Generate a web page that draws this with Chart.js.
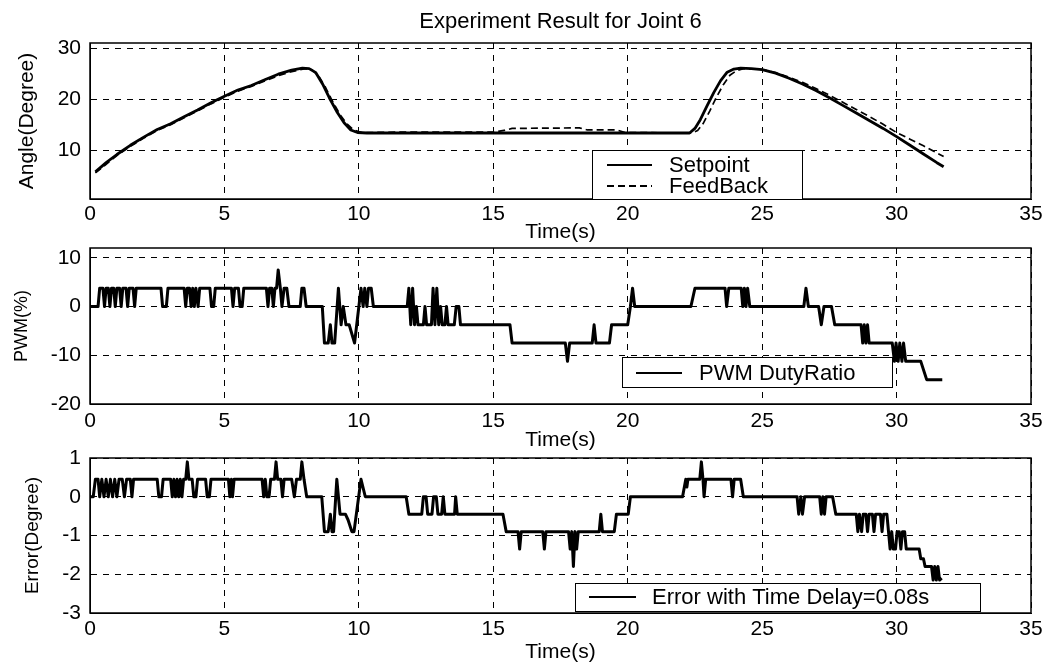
<!DOCTYPE html>
<html lang="en">
<head>
<meta charset="utf-8">
<title>Experiment Result for Joint 6</title>
<style>
  html, body { margin: 0; padding: 0; background: #fff; }
  #wrap { position: relative; width: 1059px; height: 666px; }
  #wrap canvas { position: absolute; left: 0; top: 0; }
</style>
</head>
<body>
<div id="wrap">
  <canvas id="angleChart" width="1059" height="666"></canvas>
  <canvas id="pwmChart" width="1059" height="666"></canvas>
  <canvas id="errChart" width="1059" height="666"></canvas>
</div>
<script src="https://cdn.jsdelivr.net/npm/chart.js@4.4.1/dist/chart.umd.min.js"></script>
<script>
  // angle of joint 6 (degree)
  var spTime = [0.2, 0.6, 1.0, 1.5, 2.0, 2.5, 3.0, 3.5, 4.0, 4.5, 5.0, 5.5, 6.0, 6.5, 7.0, 7.5, 7.9, 8.15, 8.4, 8.65,
    8.9, 9.2, 9.45, 9.7, 9.95, 10.3, 16.0, 22.3, 22.5, 22.7, 22.95, 23.2, 23.45, 23.7, 23.95, 24.2, 24.6, 25.0, 25.5, 26.0,
    26.5, 27.0, 27.5, 28.0, 28.5, 29.0, 29.5, 30.0, 30.5, 31.0, 31.5, 31.75];
  var spAngle = [5.8, 7.6, 9.2, 11.0, 12.6, 14.1, 15.2, 16.6, 17.9, 19.3, 20.6, 21.8, 22.7, 23.8, 24.9, 25.7, 26.1, 26.0, 25.2, 23.0,
    20.3, 17.4, 15.4, 14.0, 13.5, 13.4, 13.4, 13.4, 14.3, 16.0, 18.7, 21.3, 23.6, 25.3, 25.9, 26.1, 26.0, 25.8, 25.1, 24.1,
    23.0, 21.7, 20.3, 18.8, 17.3, 15.8, 14.3, 12.7, 11.0, 9.3, 7.6, 6.8];
  var fbTime = [0.2, 0.6, 1.0, 1.5, 2.0, 2.5, 3.0, 3.5, 4.0, 4.5, 5.0, 5.5, 6.0, 6.5, 7.0, 7.5, 8.0, 8.25, 8.5, 8.75,
    9.0, 9.3, 9.55, 9.8, 10.1, 10.5, 12.0, 15.0, 15.4, 15.7, 18.2, 18.5, 19.6, 19.9, 22.4, 22.6, 22.8, 23.05, 23.3, 23.55,
    23.8, 24.05, 24.3, 25.0, 25.5, 26.0, 26.5, 27.0, 27.5, 28.0, 28.5, 29.0, 29.5, 30.0, 30.5, 31.0, 31.5, 31.75];
  var fbAngle = [5.6, 7.3, 9.0, 10.8, 12.4, 13.9, 15.0, 16.4, 17.7, 19.1, 20.4, 21.6, 22.5, 23.6, 24.6, 25.4, 26.0, 25.8, 24.6, 22.4,
    19.8, 17.0, 15.2, 14.0, 13.5, 13.5, 13.6, 13.6, 13.9, 14.3, 14.4, 14.0, 14.0, 13.5, 13.4, 13.9, 15.2, 17.7, 20.4, 22.8,
    24.7, 25.6, 26.0, 25.8, 25.2, 24.3, 23.3, 22.1, 20.8, 19.4, 18.0, 16.6, 15.1, 13.5, 12.2, 10.9, 9.5, 8.8];

  // PWM duty ratio (%)
  var pwmTime = [0, 0.3, 0.36, 0.48, 0.54, 0.6, 0.68, 0.74, 0.8, 0.88, 0.94, 1.0, 1.1, 1.16, 1.22, 1.34, 1.4, 1.46, 1.6, 1.66,
    1.72, 2.64, 2.7, 2.84, 2.9, 3.5, 3.56, 3.62, 3.7, 3.76, 3.82, 3.88, 3.94, 4.02, 4.08, 4.46, 4.52, 4.6, 4.66, 5.26,
    5.32, 5.38, 5.52, 5.58, 5.66, 5.72, 6.56, 6.62, 6.68, 6.76, 6.82, 6.88, 6.94, 7.0, 7.08, 7.14, 7.22, 7.32, 7.4, 7.82,
    7.88, 7.96, 8.04, 8.64, 8.72, 8.86, 8.94, 9.0, 9.1, 9.24, 9.34, 9.42, 9.52, 9.64, 9.84, 10.08, 10.16, 10.22, 10.3, 10.36,
    10.46, 10.54, 11.8, 11.86, 11.93, 12.0, 12.07, 12.14, 12.2, 12.4, 12.46, 12.52, 12.7, 12.76, 12.83, 12.9, 12.97, 13.04, 13.1, 13.2,
    13.26, 13.32, 13.55, 13.62, 13.72, 13.78, 15.62, 15.7, 17.68, 17.76, 17.84, 18.68, 18.75, 18.82, 19.32, 19.4, 20.0, 20.1, 20.18, 20.26,
    22.35, 22.5, 23.62, 23.68, 23.76, 24.22, 24.28, 24.34, 24.4, 24.46, 24.54, 26.55, 26.63, 26.72, 27.1, 27.2, 27.3, 27.58, 27.7, 28.68,
    28.74, 28.8, 28.86, 28.92, 28.98, 29.84, 29.92, 29.98, 30.06, 30.12, 30.2, 30.26, 30.34, 30.9, 31.12, 31.7];
  var pwmDuty = [0, 0, 3.75, 3.75, 0, 3.75, 3.75, 0, 3.75, 3.75, 0, 3.75, 3.75, 0, 3.75, 3.75, 0, 3.75, 3.75, 0,
    3.75, 3.75, 0, 0, 3.75, 3.75, 0, 3.75, 3.75, 0, 3.75, 0, 3.75, 0, 3.75, 3.75, 0, 0, 3.75, 3.75,
    0, 3.75, 3.75, 0, 0, 3.75, 3.75, 0, 3.75, 3.75, 0, 3.75, 3.75, 7.5, 3.75, 0, 3.75, 3.75, 0, 0,
    3.75, 3.75, 0, 0, -7.5, -7.5, -3.75, -7.5, -7.5, 3.75, -3.75, 0, -3.75, -3.75, -7.5, 3.75, 0, 3.75, 0, 3.75,
    3.75, 0, 0, 3.75, -3.75, 3.75, -3.75, 0, -3.75, -3.75, 0, -3.75, -3.75, 3.75, -3.75, 3.75, -3.75, 0, -3.75, -3.75,
    0, -3.75, -3.75, 0, 0, -3.75, -3.75, -7.5, -7.5, -11.25, -7.5, -7.5, -3.75, -7.5, -7.5, -3.75, -3.75, 0, 3.75, 0,
    0, 3.75, 3.75, 0, 3.75, 3.75, 0, 3.75, 0, 3.75, 0, 0, 3.75, 0, 0, -3.75, 0, 0, -3.75, -3.75,
    -7.5, -3.75, -7.5, -3.75, -7.5, -7.5, -11.25, -7.5, -11.25, -7.5, -11.25, -7.5, -11.25, -11.25, -15, -15];

  // tracking error with 0.08 s delay (degree)
  var errTime = [0, 0.12, 0.2, 0.3, 0.36, 0.44, 0.52, 0.6, 0.68, 0.76, 0.84, 0.92, 1.0, 1.08, 1.2, 1.28, 1.36, 1.5, 1.56, 1.62,
    2.5, 2.56, 2.66, 2.72, 3.0, 3.06, 3.12, 3.18, 3.24, 3.3, 3.36, 3.42, 3.48, 3.56, 3.62, 3.68, 3.8, 3.86, 3.94, 4.0,
    4.3, 4.36, 4.44, 4.5, 5.15, 5.2, 5.26, 5.3, 5.36, 6.4, 6.46, 6.52, 6.58, 6.66, 6.72, 6.86, 6.92, 6.98, 7.1, 7.16,
    7.22, 7.5, 7.6, 7.68, 7.82, 7.88, 7.96, 8.06, 8.62, 8.72, 8.86, 8.94, 9.0, 9.06, 9.18, 9.3, 9.5, 9.6, 9.74, 9.82,
    10.08, 10.24, 11.76, 11.86, 12.34, 12.4, 12.5, 12.56, 12.72, 12.78, 12.88, 12.94, 13.08, 13.14, 13.2, 13.56, 13.6, 13.66, 15.36, 15.48,
    15.92, 15.98, 16.04, 16.84, 16.9, 16.96, 17.8, 17.86, 17.92, 17.98, 18.04, 18.1, 18.16, 18.94, 19.0, 19.06, 19.5, 19.58, 20.02, 20.1,
    22.04, 22.16, 22.2, 22.24, 22.68, 22.74, 22.8, 22.84, 22.9, 23.84, 23.9, 23.96, 24.2, 24.3, 26.3, 26.36, 26.44, 26.5, 26.58, 27.14,
    27.2, 27.26, 27.32, 27.38, 27.62, 27.74, 28.5, 28.56, 28.62, 28.7, 28.76, 28.86, 28.92, 28.98, 29.1, 29.16, 29.22, 29.4, 29.46, 29.52,
    29.64, 29.7, 29.76, 29.82, 29.88, 29.96, 30.02, 30.1, 30.16, 30.22, 30.3, 30.36, 30.84, 30.9, 31.0, 31.06, 31.3, 31.36, 31.42, 31.48,
    31.54, 31.6, 31.68];
  var errDeg = [0, 0, 0.45, 0.45, 0, 0.45, 0, 0.45, 0, 0.45, 0, 0.45, 0, 0.45, 0.45, 0, 0.45, 0.45, 0, 0.45,
    0.45, 0, 0, 0.45, 0.45, 0, 0.45, 0, 0.45, 0, 0.45, 0, 0.45, 0.45, 0.9, 0.45, 0.45, 0, 0, 0.45,
    0.45, 0, 0, 0.45, 0.45, 0, 0.45, 0, 0.45, 0.45, 0, 0.45, 0, 0, 0.45, 0.45, 0.9, 0.45, 0.45, 0,
    0.45, 0.45, 0, 0.45, 0.45, 0.9, 0.45, 0, 0, -0.9, -0.9, -0.45, -0.9, -0.9, 0.45, -0.45, -0.45, -0.6, -0.9, -0.9,
    0.45, 0, 0, -0.45, -0.45, 0, 0, -0.45, -0.45, 0, 0, -0.45, -0.45, 0, -0.45, -0.45, 0, -0.45, -0.45, -0.9,
    -0.9, -1.35, -0.9, -0.9, -1.35, -0.9, -0.9, -1.35, -0.9, -1.8, -0.9, -1.35, -0.9, -0.9, -0.45, -0.9, -0.9, -0.45, -0.45, 0,
    0, 0.45, 0.25, 0.45, 0.45, 0.9, 0.45, 0, 0.45, 0.45, 0, 0.45, 0.45, 0, 0, -0.45, 0, -0.45, 0, 0,
    -0.45, 0, -0.45, 0, 0, -0.45, -0.45, -0.9, -0.45, -0.9, -0.45, -0.45, -0.9, -0.45, -0.45, -0.9, -0.45, -0.45, -0.9, -0.45,
    -0.45, -0.9, -1.35, -0.9, -1.35, -1.35, -0.9, -0.9, -1.35, -0.9, -0.9, -1.35, -1.35, -1.6, -1.6, -1.8, -1.8, -2.15, -1.8, -2.15,
    -1.8, -2.15, -2.1];

  var angleTicks = [10, 20, 30];
  var pwmTicks = [-20, -10, 0, 10];
  var errTicks = [-3, -2, -1, 0, 1];

  Chart.defaults.font.family = '"Liberation Sans", Arial, Helvetica, sans-serif';
  Chart.defaults.color = '#000';

  function pts(xs, ys) {
    return xs.map(function (x, i) { return { x: x, y: ys[i] }; });
  }

  // plot box + MATLAB style legend drawn inside the axes
  var boxLegend = {
    id: 'boxLegend',
    beforeDatasetsDraw: function (chart) {
      var a = chart.chartArea, ctx = chart.ctx;
      ctx.save();
      ctx.strokeStyle = '#000';
      ctx.lineWidth = 1.5;
      ctx.strokeRect(a.left, a.top, a.right - a.left, a.bottom - a.top);
      ctx.restore();
    },
    afterDatasetsDraw: function (chart, args, opts) {
      if (!opts || !opts.box) return;
      var ctx = chart.ctx, b = opts.box;
      ctx.save();
      ctx.fillStyle = '#fff';
      ctx.fillRect(b[0], b[1], b[2], b[3]);
      ctx.strokeStyle = '#000';
      ctx.lineWidth = 1;
      ctx.strokeRect(b[0] + 0.5, b[1] + 0.5, b[2], b[3]);
      ctx.font = '22px ' + Chart.defaults.font.family;
      ctx.textBaseline = 'middle';
      ctx.fillStyle = '#000';
      chart.data.datasets.forEach(function (ds, i) {
        var y = opts.rows[i];
        ctx.beginPath();
        ctx.setLineDash(ds.borderDash || []);
        ctx.lineWidth = 2;
        ctx.moveTo(opts.sample[0], y);
        ctx.lineTo(opts.sample[1], y);
        ctx.stroke();
        ctx.setLineDash([]);
        ctx.fillText(ds.label, opts.textX, y + 1);
      });
      ctx.restore();
    }
  };
  Chart.register(boxLegend);

  function makeOptions(c) {
    return {
      responsive: false,
      animation: false,
      events: [],
      layout: { padding: { left: 0, right: 28, top: c.top, bottom: c.bottom } },
      plugins: {
        legend: { display: false },
        tooltip: { enabled: false },
        title: c.title || { display: false },
        boxLegend: c.legend
      },
      scales: {
        x: {
          type: 'linear', min: 0, max: 35,
          ticks: { stepSize: 5, padding: c.xPad, font: { size: 21 }, maxRotation: 0, autoSkip: false },
          grid: { color: '#000', lineWidth: 1, drawTicks: false },
          border: { display: true, color: '#000', width: 1, dash: [6, 6] },
          title: { display: true, text: 'Time(s)', font: { size: 21 }, padding: { top: 0, bottom: 0 } },
          afterFit: function (s) { s.height = c.xHeight; }
        },
        y: {
          min: c.min, max: c.max,
          afterBuildTicks: function (s) { s.ticks = c.ticks.map(function (v) { return { value: v }; }); },
          ticks: { padding: 9, font: { size: 21 } },
          grid: { color: '#000', lineWidth: 1, drawTicks: false },
          border: { display: true, color: '#000', width: 1, dash: [6, 6] },
          title: { display: true, text: c.yTitle, font: { size: c.yTitleSize }, padding: { top: c.yTitlePad, bottom: 0 } },
          afterFit: function (s) { s.width = 90; }
        }
      }
    };
  }

  function lineSet(label, data, width, dash) {
    return {
      label: label, data: data, borderColor: '#000', backgroundColor: '#000',
      borderWidth: width, borderDash: dash, pointRadius: 0, tension: 0,
      borderJoinStyle: 'round', fill: false
    };
  }

  new Chart(document.getElementById('angleChart'), {
    type: 'line',
    data: {
      datasets: [
        lineSet('Setpoint', pts(spTime, spAngle), 2.8, []),
        lineSet('FeedBack', pts(fbTime, fbAngle), 1.7, [7, 4])
      ]
    },
    options: makeOptions({
      top: 0, bottom: 421, xHeight: 46, xPad: 3, min: 0.5, max: 31, ticks: angleTicks,
      yTitle: 'Angle(Degree)', yTitleSize: 21, yTitlePad: 15,
      title: {
        display: true, fullSize: false, text: 'Experiment Result for Joint 6',
        font: { size: 22, weight: 'normal' }, color: '#000', padding: { top: 9, bottom: 7.6 }
      },
      legend: { box: [592, 150, 210, 49], rows: [165, 186], sample: [607, 652], textX: 669 }
    })
  });

  new Chart(document.getElementById('pwmChart'), {
    type: 'line',
    data: { datasets: [lineSet('PWM DutyRatio', pts(pwmTime, pwmDuty), 3, [])] },
    options: makeOptions({
      top: 248, bottom: 213, xHeight: 49, xPad: 5, min: -20, max: 12, ticks: pwmTicks,
      yTitle: 'PWM(%)', yTitleSize: 18, yTitlePad: 11,
      legend: { box: [622, 357, 270, 30], rows: [373], sample: [636, 682], textX: 699 }
    })
  });

  new Chart(document.getElementById('errChart'), {
    type: 'line',
    data: { datasets: [lineSet('Error with Time Delay=0.08s', pts(errTime, errDeg), 3, [])] },
    options: makeOptions({
      top: 458, bottom: 1, xHeight: 52, xPad: 4, min: -3, max: 1, ticks: errTicks,
      yTitle: 'Error(Degree)', yTitleSize: 19, yTitlePad: 21,
      legend: { box: [575, 583, 405, 28], rows: [597], sample: [589, 636], textX: 652 }
    })
  });
</script>
</body>
</html>
